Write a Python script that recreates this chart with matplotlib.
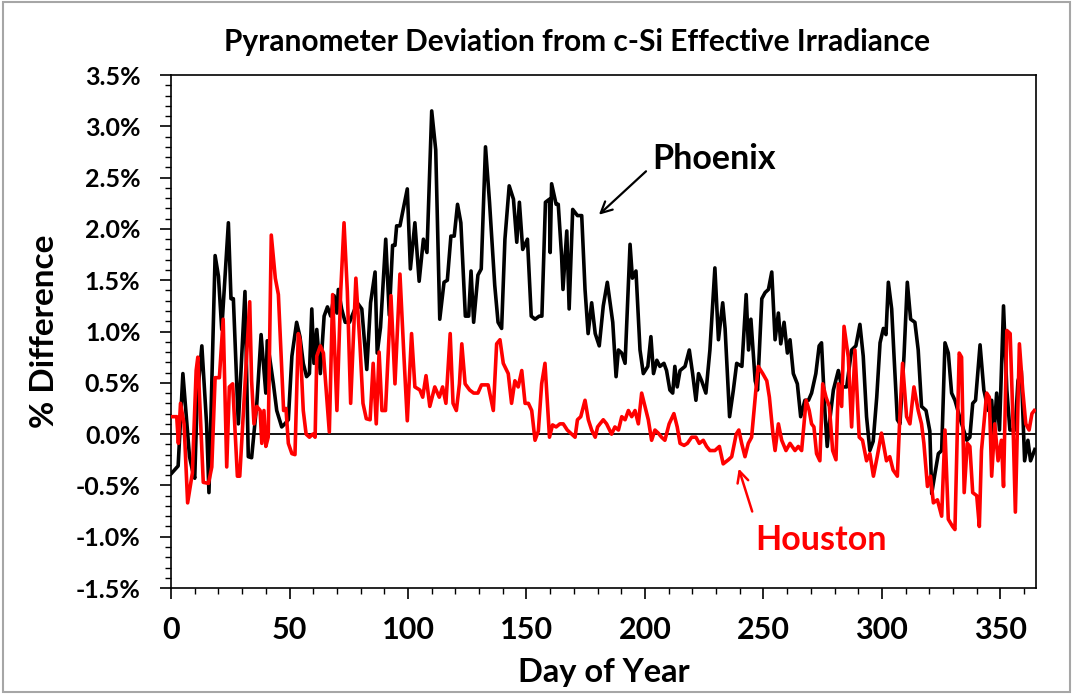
import numpy as np
import matplotlib.pyplot as plt
from matplotlib.ticker import MultipleLocator, FuncFormatter
from matplotlib.patches import Rectangle

# Phoenix (black) - day of year, % difference
phx_day = [0.3, 3, 5, 7.8, 9, 10, 11, 13, 15, 16, 18.6, 20, 21.4, 24.2, 25.3, 26.3, 28.4, 31.2, 32.6, 34,
           36.2, 38, 40, 40.6, 43.2, 44.6, 46.7, 48, 49.5, 51, 53, 54.4, 55.8, 57.2, 58.4, 59.4, 60.3, 61.5,
           63, 64.6, 66, 67.4, 68.8, 70, 70.6, 72, 73.5, 75.3, 78.6, 80.5, 82.6, 84.2, 86.1, 87, 88.4, 90.6,
           92.1, 93.5, 94.5, 95.2, 96.6, 97.7, 99.7, 101, 102.9, 104.7, 106.5, 108, 110, 111.7, 113.4, 115.2,
           116.6, 118.1, 119.5, 120.9, 122.3, 124.2, 125.6, 126.6, 127.7, 129.5, 130.9, 132.7, 134.4, 136.6,
           138, 139.5, 140.9, 142.7, 144.5, 145.9, 147, 148.4, 150.4, 152, 153.6, 155.4, 156.5, 158, 159.7,
           160, 160.6, 162.5, 163.4, 164.8, 165.4, 167, 168, 169.5, 171.5, 173.3, 174.7, 176, 177.5, 179,
           180.7, 182.4, 184.1, 186.4, 187.8, 188.8, 190.2, 191.6, 193.7, 194.7, 196.2, 197.9, 199.3, 201.2,
           202.5, 203.6, 205, 206.3, 208, 209.1, 210.5, 211.7, 212.6, 213.6, 214.8, 216.9, 218.7, 220.1,
           221.5, 222.6, 223.9, 225.7, 227.4, 229.5, 231, 232.8, 233.8, 235.7, 237.3, 238.7, 240.9, 242.7,
           243.7, 244.7, 246.5, 247.5, 249.3, 250.7, 252.1, 253.5, 254.9, 256.3, 257.3, 258.7, 260.1, 261.2,
           262.6, 264.3, 265.7, 267.5, 269, 270.3, 272.1, 273.5, 274.5, 275.9, 276.9, 277.8, 279.5, 281.6,
           283, 285.1, 287.2, 289, 290.7, 292.1, 293.5, 294.9, 296.3, 297.8, 299.2, 300.6, 301.7, 302.7,
           304.1, 305.1, 306.5, 307.6, 309.3, 310.7, 312.1, 313.9, 315.3, 316.7, 318.6, 320.2, 321, 322.4,
           323.8, 325.2, 326.6, 328, 329.4, 330.8, 333, 335.8, 337.1, 338.3, 339.5, 341.4, 343, 344.9, 346.3,
           347.3, 348.4, 349.6, 351.3, 352.7, 354, 356.2, 357.4, 358.8, 360.2, 361.6, 362.7, 364.5]
phx_val = [-0.38, -0.31, 0.59, -0.22, -0.35, -0.43, 0.33, 0.86, 0.10, -0.57, 1.74, 1.54, 1.02, 2.06, 1.32,
           1.32, 0.10, 1.39, -0.22, -0.23, 0.30, 0.97, 0.40, 0.91, 0.49, 0.23, 0.07, 0.10, 0.14, 0.76, 1.09,
           0.95, 0.69, 0.56, 0.59, 1.22, 0.69, 1.02, 0.59, 1.15, 1.24, 1.15, 1.35, 1.18, 1.41, 1.22, 1.09,
           1.09, 1.28, 1.22, 0.63, 1.28, 1.58, 0.79, 1.04, 1.90, 1.16, 1.84, 1.84, 2.03, 2.03, 2.16, 2.39,
           1.61, 2.06, 1.49, 1.90, 1.77, 3.15, 2.77, 1.12, 1.48, 1.50, 1.93, 1.93, 2.24, 2.06, 1.15, 1.15,
           1.59, 1.09, 1.55, 1.61, 2.80, 2.26, 1.45, 1.09, 1.03, 1.90, 2.42, 2.29, 1.87, 2.26, 1.80, 1.90,
           1.15, 1.12, 1.15, 1.15, 2.26, 2.29, 1.77, 2.44, 2.24, 2.24, 1.74, 1.41, 1.98, 1.22, 2.19, 2.13,
           2.13, 1.41, 0.98, 1.28, 0.98, 0.86, 1.25, 1.48, 1.09, 0.56, 0.82, 0.79, 0.69, 1.85, 1.52, 1.59,
           0.82, 0.59, 0.66, 0.95, 0.59, 0.72, 0.66, 0.69, 0.62, 0.43, 0.40, 0.66, 0.46, 0.62, 0.66, 0.82,
           0.59, 0.33, 0.59, 0.52, 0.40, 0.82, 1.62, 0.92, 1.28, 1.03, 0.17, 0.43, 0.69, 0.66, 1.36, 0.82,
           1.12, 0.52, 0.43, 1.32, 1.38, 1.41, 1.58, 0.92, 1.18, 0.88, 1.09, 0.79, 0.92, 0.59, 0.49, 0.17,
           0.33, 0.33, 0.40, 0.59, 0.86, 0.89, 0.23, -0.12, 0.10, 0.43, 0.62, 0.46, 0.46, 0.82, 0.86, 1.07,
           0.76, 0.17, -0.16, -0.07, 0.36, 0.89, 1.03, 0.97, 1.48, 1.22, 0.76, 0.14, 0.10, 0.76, 1.48, 1.12,
           1.09, 0.82, 0.27, 0.23, 0.03, -0.58, -0.38, -0.19, -0.16, 0.89, 0.79, 0.40, 0.33, 0.15, -0.06,
           -0.03, 0.30, 0.33, 0.87, 0.43, 0.23, 0.33, 0.0, 0.40, 0.04, 1.25, 0.43, 0.04, 0.04, 0.52, 0.62,
           -0.26, -0.06, -0.26, -0.15]

# Houston (red)
hou_day = [0.7, 2.4, 3.1, 4, 5.5, 7, 9, 10.6, 11.3, 13.6, 15.8, 17.2, 18.6, 20.4, 22, 23.5, 24.6, 26, 28,
           29, 33.2, 34, 35, 36.2, 37.6, 38.3, 39.2, 40, 41, 42.3, 44, 45.3, 47.5, 48.5, 49.5, 51, 52.3,
           53.7, 54.4, 55.8, 57, 58.4, 59.8, 60.8, 61.5, 63, 64.3, 66.8, 68.2, 70, 71.6, 73, 74.4, 75.8, 78,
           79.7, 81, 82.4, 84, 85.3, 86.6, 87.8, 89, 90.5, 92.8, 94.5, 96.6, 98.3, 99.7, 101.5, 102.9, 105,
           106.2, 107.6, 109.2, 111.3, 113.2, 114.6, 116, 117.8, 119, 120.4, 121.7, 122.7, 124.1, 126,
           127.7, 129.5, 131, 133.8, 136, 137.4, 138.8, 140.2, 142.3, 143.7, 145.1, 146.5, 148, 149.4,
           150.8, 152.2, 153.6, 155, 156.4, 157.8, 159.7, 161, 162.5, 164.1, 165.5, 167.2, 168.6, 170.5,
           171.5, 172.9, 174.7, 176.1, 177.5, 179, 180, 181, 182.4, 183.8, 185.9, 187.3, 188.8, 190.2,
           191.6, 193, 194.4, 195.8, 197.2, 198.6, 200, 201.4, 202.8, 204.2, 205.6, 207, 208.4, 210.2,
           212.2, 213.6, 214.8, 216.5, 217.9, 219.7, 221.5, 222.9, 224.6, 226, 227.4, 229.5, 231.4, 233,
           235.2, 236.6, 238.5, 239.6, 240.8, 242.2, 243.6, 245, 246.8, 247.8, 249.7, 251.4, 252.5, 254,
           254.9, 256.3, 257.7, 259.5, 261.2, 263.3, 264.7, 266.1, 268, 269.3, 270.3, 271.3, 272.4, 273.8,
           275, 276.4, 277.8, 279.2, 280.6, 281.6, 283, 284, 285.8, 287.2, 288.6, 290.4, 291.8, 293.5,
           294.9, 296.4, 298, 299.8, 301.9, 303.3, 304.7, 306.5, 307.6, 308.7, 310.4, 311.8, 313.5, 315.3,
           316.7, 317.7, 319.2, 320.5, 321.7, 323.4, 325.2, 326.6, 328, 329.8, 330.8, 332.6, 333.6, 334.7,
           336, 337.1, 338.3, 340, 341.1, 342, 344.2, 345.3, 346.3, 347.6, 349, 350.4, 351.3, 352.7, 354.1,
           355.2, 356.3, 358, 359.4, 360.7, 362.1, 363.3, 364.3]
hou_val = [0.17, 0.17, -0.09, 0.30, 0.10, -0.67, -0.38, 0.62, 0.75, -0.47, -0.48, -0.32, 0.55, 0.55, 1.12,
           -0.32, 0.46, 0.49, -0.41, -0.41, 1.29, 0.52, 0.10, 0.27, 0.23, -0.09, 0.23, -0.12, -0.03, 1.94,
           1.52, 1.36, 0.23, 0.25, -0.09, -0.19, -0.20, 0.98, 0.92, 0.23, 0.0, -0.03, 0.0, -0.03, 0.76, 0.86,
           0.79, 0.02, 1.36, 0.23, 1.39, 2.06, 1.39, 0.30, 1.52, 0.88, 0.30, 0.15, 0.14, 0.69, 0.10, 0.80,
           0.23, 0.23, 1.35, 0.49, 1.56, 0.75, 0.13, 0.98, 0.46, 0.43, 0.36, 0.57, 0.27, 0.46, 0.36, 0.46,
           0.30, 0.98, 0.30, 0.23, 0.49, 0.88, 0.49, 0.43, 0.40, 0.40, 0.48, 0.48, 0.23, 0.88, 0.92, 0.69,
           0.59, 0.30, 0.52, 0.46, 0.62, 0.30, 0.30, 0.23, -0.06, 0.03, 0.49, 0.69, -0.03, 0.09, 0.07, 0.10,
           0.10, 0.04, 0.01, -0.03, 0.14, 0.17, 0.33, 0.14, 0.04, -0.03, 0.07, 0.10, 0.14, 0.10, 0.0, 0.07,
           0.04, 0.17, 0.14, 0.23, 0.17, 0.23, 0.10, 0.40, 0.27, 0.14, -0.06, 0.04, 0.01, -0.03, -0.06,
           0.10, 0.20, 0.07, -0.09, -0.11, -0.09, -0.03, -0.03, -0.09, -0.06, -0.12, -0.16, -0.16, -0.12,
           -0.29, -0.25, -0.22, 0.0, 0.04, -0.09, -0.22, -0.09, -0.03, 0.43, 0.66, 0.59, 0.52, 0.36, 0.0,
           -0.16, 0.10, -0.06, -0.16, -0.09, -0.16, -0.12, -0.16, 0.33, 0.23, 0.10, 0.07, -0.19, -0.26, 0.49,
           0.36, 0.27, -0.16, -0.25, 0.49, 0.27, 1.05, 0.75, 0.07, 0.82, -0.03, -0.06, -0.26, -0.19, -0.41,
           -0.22, 0.01, -0.26, -0.22, -0.35, -0.41, 0.20, 0.69, 0.17, 0.10, 0.46, 0.23, 0.10, -0.09, -0.51,
           -0.41, -0.67, -0.64, -0.80, 0.04, -0.83, -0.90, -0.93, 0.79, 0.75, -0.57, -0.09, -0.12, -0.57,
           -0.60, -0.90, -0.16, 0.40, 0.36, -0.41, 0.10, -0.26, -0.06, -0.51, 1.01, 0.98, 0.20, -0.76, 0.88,
           0.43, 0.10, 0.04, 0.20, 0.23]

lato = ['Lato', 'DejaVu Sans']

fig = plt.figure(figsize=(10.73, 6.94), dpi=100)
ax = fig.add_axes([0.1594, 0.1527, 0.8061, 0.7392])
fig.patches.append(Rectangle((0.003, 0.003), 0.994, 0.994, transform=fig.transFigure,
                             fill=False, edgecolor='#a6a6a6', lw=1.5))

ax.axhline(0, color='black', lw=1.3, zorder=1)
ax.plot(phx_day, phx_val, color='black', lw=2.6, zorder=2)
ax.plot(hou_day, hou_val, color='#ff0000', lw=2.6, zorder=3)

ax.set_xlim(0, 365)
ax.set_ylim(-1.5, 3.5)
ax.xaxis.set_major_locator(MultipleLocator(50))
ax.xaxis.set_minor_locator(MultipleLocator(10))
ax.yaxis.set_major_locator(MultipleLocator(0.5))
ax.yaxis.set_minor_locator(MultipleLocator(0.1))
ax.yaxis.set_major_formatter(FuncFormatter(lambda v, p: f'{v:.1f}%'))
ax.tick_params(which='major', length=8, width=1.2, direction='out')
ax.tick_params(which='minor', length=4, width=1.0, direction='out')
ax.tick_params(axis='x', which='major', pad=12)
ax.tick_params(axis='y', which='major', pad=14)
for s in ax.spines.values():
    s.set_linewidth(1.2)

for lbl in ax.get_yticklabels():
    lbl.set_fontfamily(lato)
    lbl.set_fontweight('bold')
    lbl.set_fontsize(18)
for lbl in ax.get_xticklabels():
    lbl.set_fontfamily(lato)
    lbl.set_fontweight('bold')
    lbl.set_fontsize(22)

ax.set_xlabel('Day of Year', fontsize=23.5, fontweight='bold', family=lato, labelpad=10)
ax.set_ylabel('% Difference', fontsize=24, fontweight='bold', family=lato, labelpad=12)
fig.text(0.538, 0.94, 'Pyranometer Deviation from c-Si Effective Irradiance',
         ha='center', va='center', fontsize=21.5, fontweight='bold', family=lato)

ax.annotate('', xy=(179.7, 2.12), xytext=(201.3, 2.58),
            arrowprops=dict(arrowstyle='->,head_length=0.8,head_width=0.4', color='black', lw=1.6))
ax.text(203, 2.68, 'Phoenix', fontsize=24.5, fontweight='bold', family=lato,
        color='black', ha='left', va='center')
ax.annotate('', xy=(239.2, -0.31), xytext=(245.6, -0.78),
            arrowprops=dict(arrowstyle='->,head_length=0.8,head_width=0.4', color='#ff0000', lw=1.8))
ax.text(246.4, -1.03, 'Houston', fontsize=24.5, fontweight='bold', family=lato,
        color='#ff0000', ha='left', va='center')

fig.savefig('out.png', dpi=100)
